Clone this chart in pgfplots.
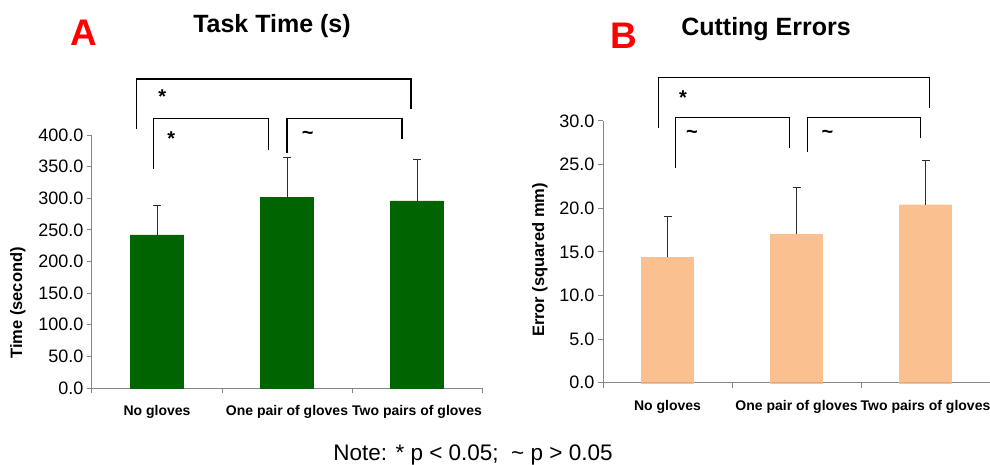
\documentclass[border=0pt]{standalone}
\usepackage{fontspec}
\setmainfont{Liberation Sans}
\usepackage{pgfplots}
\pgfplotsset{compat=1.18}
\definecolor{bargreen}{RGB}{0,100,0}
\definecolor{barpeach}{RGB}{250,192,144}
\definecolor{axgray}{RGB}{134,134,134}
\definecolor{errgray}{RGB}{45,45,45}
\tikzset{brk/.style={black, line width=1.2pt}}
\pgfplotsset{
  panel/.style={
    scale only axis, anchor=south west,
    axis x line*=bottom, axis y line*=left,
    axis line style={axgray, line width=1pt},
    xmin=-0.5, xmax=2.5, ymin=0,
    ybar, clip=false,
    xtick={0,1,2},
    xticklabels={No gloves, One pair of gloves, Two pairs of gloves},
    major x tick style={draw=none},
    minor xtick={-0.5,0.5,1.5,2.5},
    minor x tick style={axgray, line width=1pt},
    ytick style={axgray, line width=1pt},
    tick align=outside, major tick length=5pt, minor tick length=5pt,
    xticklabel style={font=\bfseries\fontsize{14}{14}\selectfont, yshift=-9pt},
    yticklabel style={font=\fontsize{18}{18}\selectfont},
    /pgf/number format/fixed, /pgf/number format/fixed zerofill,
    /pgf/number format/precision=1, /pgf/number format/assume math mode=true,
    ylabel style={font=\bfseries\fontsize{16.5}{16.5}\selectfont, anchor=center},
  },
  errs/.style={
    error bars/y dir=plus, error bars/y explicit,
    error bars/error bar style={errgray, line width=1pt},
    error bars/error mark options={rotate=90, errgray, mark size=4pt, line width=1pt},
  },
}
\begin{document}
\begin{tikzpicture}
\path[use as bounding box] (0,0) rectangle (990pt,464pt);
% Panel A
\begin{axis}[panel, at={(92pt,76pt)}, width=390pt, height=253pt,
  ymax=400, ytick distance=50, bar width=53pt,
  ylabel={Time (second)},
  ylabel style={at={(axis description cs:-0.19,0.336)}}]
\addplot[fill=bargreen, draw=bargreen, errs] coordinates {(0,242) +- (0,46) (1,301) +- (0,63) (2,296) +- (0,65.5)};
\draw[brk] (axis cs:-0.16,409.5) -- (axis cs:-0.16,488.5) -- (axis cs:1.954,488.5) -- (axis cs:1.954,441);
\draw[brk] (axis cs:-0.03,346) -- (axis cs:-0.03,425.5) -- (axis cs:0.86,425.5) -- (axis cs:0.86,376);
\draw[brk] (axis cs:1.0,371.5) -- (axis cs:1.0,425.5) -- (axis cs:1.885,425.5) -- (axis cs:1.885,393.7);
\node[font=\bfseries\fontsize{20}{20}\selectfont] at (axis cs:0.04,461) {*};
\node[font=\bfseries\fontsize{20}{20}\selectfont] at (axis cs:0.11,394) {*};
\node[font=\bfseries\fontsize{20}{20}\selectfont] at (axis cs:1.16,400) {\textasciitilde};
\end{axis}
% Panel B
\begin{axis}[panel, at={(603pt,81.3pt)}, width=387pt, height=261.7pt,
  ymax=30, ytick distance=5, bar width=52pt,
  ylabel={Error (squared mm)},
  ylabel style={at={(axis description cs:-0.163,0.469)}}]
\addplot[fill=barpeach, draw=barpeach, errs] coordinates {(0,14.4) +- (0,4.7) (1,17.0) +- (0,5.4) (2,20.4) +- (0,5.1)};
\draw[brk] (axis cs:-0.07,29.24) -- (axis cs:-0.07,34.98) -- (axis cs:2.03,34.98) -- (axis cs:2.03,31.54);
\draw[brk] (axis cs:0.06,24.59) -- (axis cs:0.06,30.39) -- (axis cs:0.945,30.39) -- (axis cs:0.945,26.95);
\draw[brk] (axis cs:1.086,26.46) -- (axis cs:1.086,30.39) -- (axis cs:1.964,30.39) -- (axis cs:1.964,28.03);
\node[font=\bfseries\fontsize{20}{20}\selectfont] at (axis cs:0.12,32.7) {*};
\node[font=\bfseries\fontsize{20}{20}\selectfont] at (axis cs:0.19,28.49) {\textasciitilde};
\node[font=\bfseries\fontsize{20}{20}\selectfont] at (axis cs:1.24,28.49) {\textasciitilde};
\end{axis}
% Titles and notes
\node[font=\bfseries\fontsize{25}{25}\selectfont] at (272pt,438pt) {Task Time (s)};
\node[font=\bfseries\fontsize{25}{25}\selectfont] at (766pt,435pt) {Cutting Errors};
\node[font=\bfseries\fontsize{37}{37}\selectfont, text=red] at (84pt,431pt) {A};
\node[font=\bfseries\fontsize{37}{37}\selectfont, text=red] at (624pt,428pt) {B};
\node[font=\fontsize{22.5}{22.5}\selectfont] at (473pt,9pt) {Note: * p < 0.05;\ \ \textasciitilde\ p > 0.05};
\end{tikzpicture}
\end{document}
